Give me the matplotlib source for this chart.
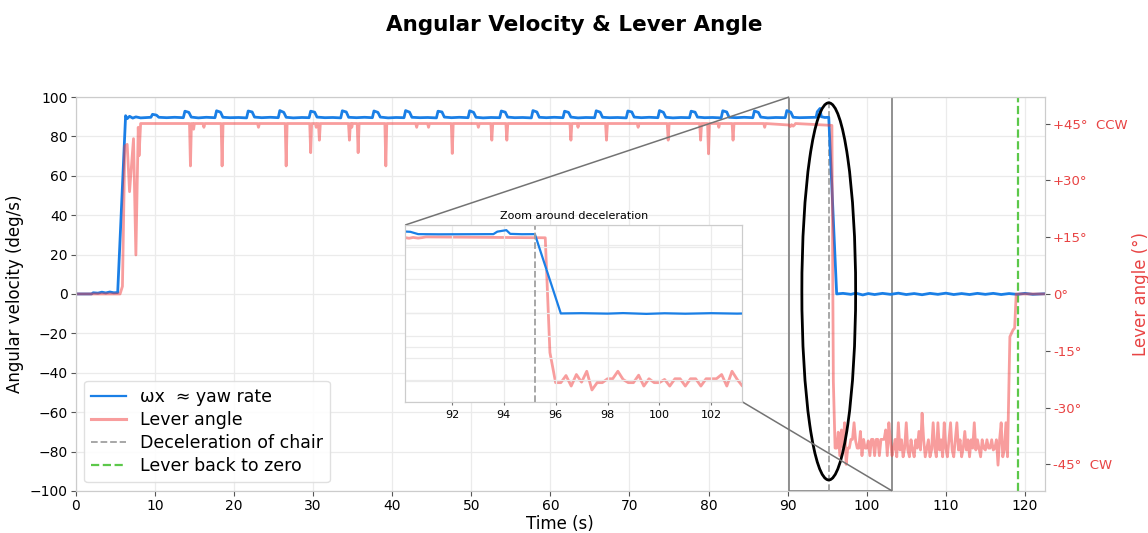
"""
Angular velocity of the chair vs lever angle, with a zoom on the deceleration.
"""
import numpy as np
import matplotlib
matplotlib.use('Agg')
import matplotlib.pyplot as plt
from matplotlib.patches import Ellipse
from matplotlib.lines import Line2D
from mpl_toolkits.axes_grid1.inset_locator import mark_inset

# ---- data ----
# omega_x (deg/s)
blue_t = [0, 2.0, 2.2, 2.8, 3.3, 3.8, 4.3, 4.8, 5.3,
          6.3, 6.5, 6.8, 7.2, 7.6, 8.2, 9.0, 9.5, 9.7, 10.2, 10.5, 11.5, 12.5,
          13.6, 13.8, 14.3, 14.6, 15.5, 16.5,
          17.6, 17.8, 18.3, 18.6, 19.5, 20.6,
          21.6, 21.8, 22.3, 22.6, 23.5, 24.6,
          25.6, 25.8, 26.3, 26.6, 27.5, 28.6,
          29.5, 29.7, 30.2, 30.5, 31.5, 32.5,
          33.5, 33.7, 34.2, 34.5, 35.5, 36.5,
          37.5, 37.7, 38.2, 38.5, 39.5, 40.5,
          41.5, 41.7, 42.2, 42.5, 43.5, 44.5,
          45.6, 45.8, 46.3, 46.6, 47.5, 48.5,
          49.6, 49.8, 50.3, 50.6, 51.5, 52.5,
          53.6, 53.8, 54.3, 54.6, 55.5, 56.5,
          57.6, 57.8, 58.3, 58.6, 59.5, 60.5,
          61.6, 61.8, 62.3, 62.6, 63.5, 64.5,
          65.6, 65.8, 66.3, 66.6, 67.5, 68.5,
          69.6, 69.8, 70.3, 70.6, 71.5, 72.5,
          73.6, 73.8, 74.3, 74.6, 75.5, 76.5,
          77.6, 77.8, 78.3, 78.6, 79.5, 80.5,
          81.6, 81.8, 82.3, 82.6, 83.5, 84.5,
          85.6, 85.8, 86.3, 86.6, 87.5, 88.5,
          89.7, 89.9, 90.4, 90.7, 91.5, 92.5,
          93.6, 93.75, 94.1, 94.25, 94.7, 95.2,
          96.2, 97.0, 98.0, 98.6, 99.5, 100.2, 101.0, 102.0, 103.0, 104.0,
          105.0, 106.0, 107.0, 108.0, 109.0, 110.0, 111.0, 112.0, 113.0, 114.0,
          115.0, 116.0, 117.0, 118.0, 119.0, 120.0, 121.0, 122.5]
blue_v = [0, 0, 0.6, 0.4, 0.9, 0.5, 1.0, 0.6, 0.7,
          90.5, 89.0, 90.2, 89.3, 89.9, 89.4, 89.6, 89.7, 91.2, 90.8, 89.7, 89.5, 89.7,
          89.5, 92.8, 92.2, 89.8, 89.4, 89.7,
          89.5, 93.0, 92.3, 89.7, 89.5, 89.6,
          89.4, 92.9, 92.4, 89.8, 89.5, 89.7,
          89.5, 93.1, 92.2, 89.7, 89.4, 89.6,
          89.5, 92.8, 92.3, 89.8, 89.5, 89.6,
          89.4, 93.0, 92.4, 89.7, 89.5, 89.7,
          89.5, 92.9, 92.2, 89.8, 89.4, 89.6,
          89.5, 93.1, 92.3, 89.7, 89.5, 89.6,
          89.4, 92.8, 92.4, 89.8, 89.5, 89.7,
          89.5, 93.0, 92.2, 89.7, 89.4, 89.6,
          89.5, 92.9, 92.3, 89.8, 89.5, 89.6,
          89.4, 93.1, 92.4, 89.7, 89.5, 89.7,
          89.5, 92.8, 92.2, 89.8, 89.4, 89.6,
          89.5, 93.0, 92.3, 89.7, 89.5, 89.6,
          89.4, 92.9, 92.4, 89.8, 89.5, 89.7,
          89.5, 93.1, 92.2, 89.7, 89.4, 89.6,
          89.5, 92.8, 92.3, 89.8, 89.5, 89.6,
          89.4, 93.0, 92.4, 89.7, 89.5, 89.7,
          89.5, 92.9, 92.2, 89.8, 89.4, 89.6,
          89.5, 93.1, 92.3, 89.7, 89.5, 89.6,
          89.7, 92.5, 94.2, 90.0, 89.6, 89.7,
          0.0, 0.3, -0.2, 0.4, -0.5, 0.2, -0.3, 0.3, -0.2, 0.4,
          -0.3, 0.2, -0.4, 0.3, -0.2, 0.4, -0.3, 0.2, -0.3, 0.3,
          -0.2, 0.3, -0.3, 0.2, -0.2, 0.3, -0.2, 0.1]

# lever angle (deg): start-up, plateau with dips, drop at deceleration
lever_t = [0, 5.6, 5.9, 6.2, 6.5, 6.8, 7.2, 7.3, 7.6, 7.9, 8.0, 8.2,
           14.38, 14.5, 14.62, 14.8, 14.9, 15.0, 16.08, 16.2, 16.32,
           18.38, 18.5, 18.62, 22.98, 23.1, 23.22, 26.48, 26.6, 26.72,
           29.58, 29.7, 29.82, 30.3, 30.4, 30.5, 30.68, 30.8, 30.92,
           34.48, 34.6, 34.72, 34.82, 34.9, 34.98, 35.58, 35.7, 35.82,
           39.08, 39.2, 39.32, 42.98, 43.1, 43.22, 44.48, 44.6, 44.72,
           47.48, 47.6, 47.72, 50.78, 50.9, 51.02, 52.48, 52.6, 52.72,
           54.38, 54.5, 54.62, 62.48, 62.6, 62.72, 63.4, 63.5, 63.6,
           66.98, 67.1, 67.22, 70.98, 71.1, 71.22, 74.78, 74.9, 75.02,
           78.88, 79.0, 79.12, 79.88, 80.0, 80.12, 81.2, 81.3, 81.4,
           82.98, 83.1, 83.22, 86.98, 87.1, 87.22,
           90.2, 90.35, 90.5, 90.7, 90.85, 91.0, 95.6, 95.78]
lever_v = [0, 0, 2.0, 39.0, 39.5, 27.0, 38.5, 41.0, 10.3, 44.0, 36.5, 45.0,
           45.0, 33.8, 45.0, 45.0, 43.5, 45.0, 45.0, 44.0, 45.0,
           45.0, 33.8, 45.0, 45.0, 44.0, 45.0, 45.0, 33.8, 45.0,
           45.0, 37.3, 45.0, 45.0, 44.0, 45.0, 45.0, 40.6, 45.0,
           45.0, 40.6, 45.0, 45.0, 44.0, 45.0, 45.0, 37.3, 45.0,
           45.0, 33.8, 45.0, 45.0, 44.0, 45.0, 45.0, 44.0, 45.0,
           45.0, 37.1, 45.0, 45.0, 44.0, 45.0, 45.0, 40.6, 45.0,
           45.0, 40.6, 45.0, 45.0, 40.6, 45.0, 45.0, 44.0, 45.0,
           45.0, 40.6, 45.0, 45.0, 44.0, 45.0, 45.0, 40.6, 45.0,
           45.0, 40.6, 45.0, 45.0, 37.0, 45.0, 45.0, 44.0, 45.0,
           45.0, 40.6, 45.0, 45.0, 44.0, 45.0,
           44.6, 44.2, 44.7, 44.3, 44.6, 45.0, 44.5, -23.0]

# lever held back after the stop, sampled every 0.2 s from 96.0 s
lever_hold_start = 96.0
lever_hold_step = 0.2
lever_hold_v = [-40.7, -40.7, -36.5, -42.7, -35.9, -40.4, -34.0, -45.0, -40.7, -40.7,
                -38.4, -38.4, -34.0, -38.8, -40.7, -40.7, -36.3, -42.7, -38.4, -40.7,
                -40.7, -38.8, -42.7, -38.4, -38.4, -42.7, -38.4, -38.4, -42.7, -38.4,
                -38.4, -38.4, -35.9, -42.7, -34.0, -38.8, -42.7,
                -40.7, -38.4, -43.0, -34.0, -41.2, -38.5, -43.0, -40.7, -34.0, -41.2,
                -43.0, -38.5, -41.2, -43.0, -38.5, -40.7, -36.3, -41.2, -31.5, -38.5,
                -43.0, -40.7, -38.5, -43.0, -41.2, -34.0, -40.7, -43.0, -34.0, -41.2,
                -38.5, -43.0, -34.0, -40.7, -43.0, -38.5, -34.0, -41.2, -43.0, -38.5,
                -34.0, -41.2, -38.5, -43.0, -40.7, -36.3, -41.2, -38.5, -43.0, -38.5,
                -40.7, -34.0, -41.2, -38.5, -40.7, -43.0, -38.5, -40.7, -41.2, -38.5,
                -40.7, -40.7, -38.5, -41.2, -40.7, -38.5, -45.2, -38.5, -34.0, -43.0,
                -41.2, -34.0, -43.0]

# lever released back to zero
lever_end_t = [118.1, 118.5, 118.7, 118.9, 122.5]
lever_end_v = [-11.3, -9.5, -9.0, 0.0, 0.0]

t_decel = 95.2
t_lever_zero = 119.1
zoom_range = (90.2, 103.2)

lever_ticks = [-45, -30, -15, 0, 15, 30, 45]
lever_ticklabels = ['-45°  CW', '-30°', '-15°', '0°', '+15°', '+30°', '+45°  CCW']

# ---- assemble lever series ----
hold_t = lever_hold_start + lever_hold_step * np.arange(len(lever_hold_v))
lev_t = np.concatenate([lever_t, hold_t, lever_end_t])
lev_v = np.concatenate([lever_v, lever_hold_v, lever_end_v])

BLUE = '#1a7fe6'
RED = '#f23c3c'
RED_TXT = '#e84343'
GRID = '#ebebeb'
SPINE = '#cccccc'

plt.rcParams['font.family'] = 'DejaVu Sans'

fig = plt.figure(figsize=(11.48, 5.33), dpi=100)
ax = fig.add_subplot(111)
fig.subplots_adjust(left=0.066, right=0.910, bottom=0.079, top=0.818)
fig.suptitle('Angular Velocity & Lever Angle', fontsize=15.5, fontweight='bold', y=0.972)

ax.plot(blue_t, blue_v, color=BLUE, lw=2.0, zorder=3)
ax.axvline(t_decel, color='#a0a0a0', ls='--', lw=1.3, zorder=2)
ax.axvline(t_lever_zero, color='#5cc84a', ls='--', lw=1.6, zorder=2)
ax.set_xlim(0, 122.5)
ax.set_ylim(-100, 100)
ax.set_xticks(np.arange(0, 121, 10))
ax.set_yticks(np.arange(-100, 101, 20))
ax.set_xlabel('Time (s)', fontsize=12, labelpad=1)
ax.set_ylabel('Angular velocity (deg/s)', fontsize=12)
ax.grid(True, color=GRID, lw=0.9)
ax.set_axisbelow(True)
ax.tick_params(labelsize=10, length=3.5, pad=2.5, color='#555555')
for s in ax.spines.values():
    s.set_color(SPINE)

ax2 = ax.twinx()
ax2.plot(lev_t, lev_v, color=RED, lw=2.0, alpha=0.5)
ax2.set_ylim(-52, 52)
ax2.set_yticks(lever_ticks)
ax2.set_yticklabels(lever_ticklabels)
ax2.tick_params(axis='y', labelsize=9.5, labelcolor=RED_TXT, length=3.5, pad=2.5,
                color='#555555')
ax2.set_ylabel('Lever angle (°)', color=RED_TXT, fontsize=12, labelpad=3)
for s in ax2.spines.values():
    s.set_color(SPINE)

ell = Ellipse((95.2, 1.3), 6.8, 191.5, fill=False, ec='black', lw=2.0,
              transform=ax.transData, zorder=5)
ax2.add_patch(ell)

handles = [
    Line2D([], [], color=BLUE, lw=1.6, label='ωx  ≈ yaw rate'),
    Line2D([], [], color=RED, lw=2.2, alpha=0.5, label='Lever angle'),
    Line2D([], [], color='#a0a0a0', ls='--', lw=1.3, label='Deceleration of chair'),
    Line2D([], [], color='#5cc84a', ls='--', lw=1.6, label='Lever back to zero'),
]
leg = ax2.legend(handles=handles, loc='lower left', fontsize=12.5,
                 framealpha=0.9, edgecolor='#dddddd', handlelength=2.0,
                 borderaxespad=0.5, labelspacing=0.3)

# ---- inset ----
pos = ax.get_position()
ax_in = fig.add_axes([pos.x0 + 0.340 * pos.width, pos.y0 + 0.226 * pos.height,
                      0.348 * pos.width, 0.449 * pos.height])
ax_in_r = ax_in.twinx()
# lever twin sits underneath so its grid does not cover the blue line
ax_in.set_zorder(2)
ax_in_r.set_zorder(1)
ax_in.patch.set_visible(False)
ax_in_r.patch.set_visible(True)
ax_in_r.patch.set_facecolor('white')

ax_in.plot(blue_t, blue_v, color=BLUE, lw=1.6)
ax_in.axvline(t_decel, color='#a0a0a0', ls='--', lw=1.3)
ax_in.set_xlim(*zoom_range)
ax_in.set_ylim(-100, 100)
ax_in.set_xticks(np.arange(92, 103, 2))
ax_in.set_yticks(np.arange(-100, 101, 25))
ax_in.tick_params(axis='x', labelsize=8, length=2.5, color='#777777')
ax_in.tick_params(axis='y', left=False, right=False, labelleft=False, labelright=False)
ax_in.grid(True, color=GRID, lw=0.9)
ax_in.set_axisbelow(True)
ax_in.set_title('Zoom around deceleration', fontsize=8, pad=4)
for s in ax_in.spines.values():
    s.set_color(SPINE)

ax_in_r.plot(lev_t, lev_v, color=RED, lw=2.0, alpha=0.5)
ax_in_r.set_xlim(*zoom_range)
ax_in_r.set_ylim(-52, 52)
ax_in_r.set_yticks([-40, -20, 0, 20, 40])
ax_in_r.tick_params(axis='y', left=False, right=False, labelleft=False, labelright=False)
ax_in_r.tick_params(axis='x', bottom=False, labelbottom=False)
ax_in_r.grid(True, axis='y', color=GRID, lw=0.9)
ax_in_r.set_axisbelow(True)
for s in ax_in_r.spines.values():
    s.set_color(SPINE)

mark_inset(ax, ax_in, loc1=2, loc2=4, fc='none', ec='0.45', lw=1.1)

fig.savefig('out.png', dpi=100)
